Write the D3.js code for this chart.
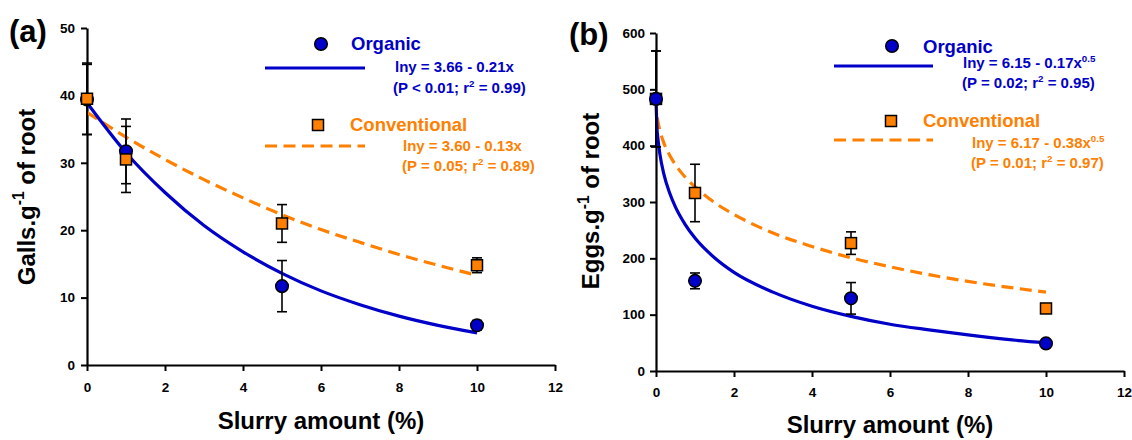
<!DOCTYPE html>
<html><head><meta charset="utf-8">
<script src="https://cdn.jsdelivr.net/npm/d3@7"></script>
<style>
body{margin:0;background:#fff}
svg{display:block}
text{font-family:"Liberation Sans",Arial,Helvetica,sans-serif;font-weight:bold}
</style>
</head><body>
<svg id="c" width="1132" height="440"></svg>
<script>
// ---------- data ----------
const xTicks = [0, 2, 4, 6, 8, 10, 12];
const doses = [0, 1, 5, 10];

const gallsYTicks = [0, 10, 20, 30, 40, 50];
const gallsOrganic = [39.4, 31.7, 11.7, 5.9];
const gallsOrganicErr = [5.2, 4.8, 3.8, 0.7];
const gallsConv = [39.5, 30.5, 21.0, 14.8];
const gallsConvErr = [5.3, 4.9, 2.8, 1.1];

const eggsYTicks = [0, 100, 200, 300, 400, 500, 600];
const eggsOrganic = [483, 160, 129, 49];
const eggsOrganicErr = [85, 14, 28, 5];
const eggsConv = [483, 316, 227, 111];
const eggsConvErr = [85, 51, 20, 7];

// fitted curves
const gallsFitX = [0, 1, 2, 3, 4, 5, 6, 7, 8, 9, 10];
const gallsOrganicFit = [38.9, 31.5, 25.6, 20.7, 16.8, 13.6, 11.0, 8.95, 7.25, 5.88, 4.76];
const gallsConvFit = [37.5, 33.8, 30.5, 27.5, 24.8, 22.3, 20.1, 18.2, 16.4, 14.8, 13.3];

const eggsFitX = [0, 0.02, 0.05, 0.1, 0.2, 0.35, 0.5, 0.75, 1, 1.5, 2, 3, 4, 5, 6, 7, 8, 9, 10];
const eggsOrganicFit = [483, 437, 412, 385, 350, 316, 291, 260, 236, 201, 175, 140, 115, 97, 83, 73, 64, 56, 50];
const eggsConvFit = [483, 457, 443, 427, 405, 383, 366, 344, 327, 299, 278, 245, 221, 201, 185, 171, 159, 149, 140];

// ---------- styles ----------
const BLUE = "#0000C8";
const ORANGE = "#FF8000";

const svg = d3.select("#c");

function richText(g, x, y, parts, size, color) {
  const t = g.append("text").attr("x", x).attr("y", y)
    .attr("font-size", size).attr("fill", color);
  let shifted = false;
  parts.forEach(p => {
    const sup = Array.isArray(p);
    const s = sup ? p[0] : p;
    const ts = t.append("tspan").text(s);
    if (sup) {
      ts.attr("font-size", size * 0.65).attr("dy", -size * 0.42);
      shifted = true;
    } else if (shifted) {
      ts.attr("dy", size * 0.42);
      shifted = false;
    }
  });
  return t;
}

const panels = [
  {
    tag: "(a)", tagX: 9, tagY: 42,
    xr: [87, 555], yr: [365, 28], yDomain: [0, 50], yTicks: gallsYTicks,
    org: gallsOrganic, orgErr: gallsOrganicErr, conv: gallsConv, convErr: gallsConvErr,
    fitX: gallsFitX, orgFit: gallsOrganicFit, convFit: gallsConvFit,
    circlesOnTop: false,
    yLabel: ["Galls.g", ["-1"], " of root"], yLabX: 34.5, yLabY: 197,
    xLabY: 429, xPad: 11.5, yPad: 6,
    leg: {cx: 321, cy: 44, ox: 351, oy: 50, lx1: 265, lx2: 365, ly: 68,
          e1x: 395, e1y: 72, e2x: 393, e2y: 93,
          sx: 318, sy: 125, cvx: 350, cvy: 131, dly: 146,
          e3x: 403, e3y: 151, e4x: 402, e4y: 171,
          e1: ["lny = 3.66 - 0.21x"], e2: ["(P < 0.01; r", ["2"], " = 0.99)"],
          e3: ["lny = 3.60 - 0.13x"], e4: ["(P = 0.05; r", ["2"], " = 0.89)"]}
  },
  {
    tag: "(b)", tagX: 569, tagY: 45,
    xr: [656, 1124], yr: [371, 33], yDomain: [0, 600], yTicks: eggsYTicks,
    org: eggsOrganic, orgErr: eggsOrganicErr, conv: eggsConv, convErr: eggsConvErr,
    fitX: eggsFitX, orgFit: eggsOrganicFit, convFit: eggsConvFit,
    circlesOnTop: true,
    yLabel: ["Eggs.g", ["-1"], " of root"], yLabX: 599, yLabY: 201,
    xLabY: 433, xPad: 10.5, yPad: 5,
    leg: {cx: 892, cy: 46, ox: 923, oy: 53, lx1: 834, lx2: 933, ly: 66,
          e1x: 963, e1y: 68, e2x: 962, e2y: 88,
          sx: 891, sy: 121, cvx: 923, cvy: 127, dly: 140,
          e3x: 972, e3y: 148, e4x: 971, e4y: 168,
          e1: ["lny = 6.15 - 0.17x", ["0.5"]], e2: ["(P = 0.02; r", ["2"], " = 0.95)"],
          e3: ["lny = 6.17 - 0.38x", ["0.5"]], e4: ["(P = 0.01; r", ["2"], " = 0.97)"]}
  }
];

panels.forEach(P => {
  const g = svg.append("g");
  const x = d3.scaleLinear().domain([0, 12]).range(P.xr);
  const y = d3.scaleLinear().domain(P.yDomain).range(P.yr);

  // axes
  const xa = g.append("g").attr("transform", `translate(0,${P.yr[0]})`)
    .call(d3.axisBottom(x).tickValues(xTicks).tickFormat(d3.format("d"))
      .tickSize(6).tickSizeOuter(0).tickPadding(P.xPad));
  const ya = g.append("g").attr("transform", `translate(${P.xr[0]},0)`)
    .call(d3.axisLeft(y).tickValues(P.yTicks).tickFormat(d3.format("d"))
      .tickSize(6).tickSizeOuter(0).tickPadding(P.yPad));
  [xa, ya].forEach(a => {
    a.select(".domain").attr("stroke", "#000").attr("stroke-width", 2.2);
    a.selectAll(".tick line").attr("stroke", "#000").attr("stroke-width", 2);
    a.selectAll(".tick text").attr("font-size", 13.5).attr("fill", "#000")
      .attr("font-family", '"Liberation Sans",Arial,sans-serif').attr("font-weight", "bold");
  });

  // curves
  const line = d3.line().x((d, i) => x(P.fitX[i])).y(d => y(d)).curve(d3.curveMonotoneX);
  g.append("path").attr("d", line(P.convFit)).attr("fill", "none")
    .attr("stroke", ORANGE).attr("stroke-width", 3.2).attr("stroke-dasharray", "12,6.5");
  g.append("path").attr("d", line(P.orgFit)).attr("fill", "none")
    .attr("stroke", BLUE).attr("stroke-width", 3.2);

  // error bars
  const drawErr = (vals, errs) => {
    vals.forEach((v, i) => {
      const cx = x(doses[i]), y1 = y(v + errs[i]), y2 = y(v - errs[i]);
      g.append("line").attr("x1", cx).attr("x2", cx).attr("y1", y1).attr("y2", y2)
        .attr("stroke", "#000").attr("stroke-width", 1.6);
      [y1, y2].forEach(yy => g.append("line").attr("x1", cx - 5).attr("x2", cx + 5)
        .attr("y1", yy).attr("y2", yy).attr("stroke", "#000").attr("stroke-width", 1.6));
    });
  };
  drawErr(P.org, P.orgErr);
  drawErr(P.conv, P.convErr);

  const drawCircles = () => g.selectAll(null).data(P.org).enter().append("circle")
    .attr("cx", (d, i) => x(doses[i])).attr("cy", d => y(d)).attr("r", 6.3)
    .attr("fill", BLUE).attr("stroke", "#000").attr("stroke-width", 1.5);
  const drawSquares = () => g.selectAll(null).data(P.conv).enter().append("rect")
    .attr("x", (d, i) => x(doses[i]) - 5.5).attr("y", d => y(d) - 5.5)
    .attr("width", 11).attr("height", 11)
    .attr("fill", ORANGE).attr("stroke", "#000").attr("stroke-width", 1.5);
  if (P.circlesOnTop) { drawSquares(); drawCircles(); } else { drawCircles(); drawSquares(); }

  // labels
  g.append("text").attr("x", P.tagX).attr("y", P.tagY).attr("font-size", 31).attr("fill", "#000").text(P.tag);
  const yl = richText(g, 0, 0, P.yLabel, 24, "#000").attr("text-anchor", "middle")
    .attr("transform", `translate(${P.yLabX},${P.yLabY}) rotate(-90)`);
  g.append("text").attr("x", (P.xr[0] + P.xr[1]) / 2).attr("y", P.xLabY)
    .attr("text-anchor", "middle").attr("font-size", 24).attr("fill", "#000").text("Slurry amount (%)");

  // legend
  const L = P.leg;
  g.append("circle").attr("cx", L.cx).attr("cy", L.cy).attr("r", 6.3)
    .attr("fill", BLUE).attr("stroke", "#000").attr("stroke-width", 1.5);
  g.append("text").attr("x", L.ox).attr("y", L.oy).attr("font-size", 18.5).attr("fill", BLUE).text("Organic");
  g.append("line").attr("x1", L.lx1).attr("x2", L.lx2).attr("y1", L.ly).attr("y2", L.ly)
    .attr("stroke", BLUE).attr("stroke-width", 3.2);
  richText(g, L.e1x, L.e1y, L.e1, 15, BLUE);
  richText(g, L.e2x, L.e2y, L.e2, 15, BLUE);
  g.append("rect").attr("x", L.sx - 5.5).attr("y", L.sy - 5.5).attr("width", 11).attr("height", 11)
    .attr("fill", ORANGE).attr("stroke", "#000").attr("stroke-width", 1.5);
  g.append("text").attr("x", L.cvx).attr("y", L.cvy).attr("font-size", 18.5).attr("fill", ORANGE).text("Conventional");
  g.append("line").attr("x1", L.lx1).attr("x2", L.lx2).attr("y1", L.dly).attr("y2", L.dly)
    .attr("stroke", ORANGE).attr("stroke-width", 3.2).attr("stroke-dasharray", "12,6.5");
  richText(g, L.e3x, L.e3y, L.e3, 15, ORANGE);
  richText(g, L.e4x, L.e4y, L.e4, 15, ORANGE);
});
</script>
</body></html>
